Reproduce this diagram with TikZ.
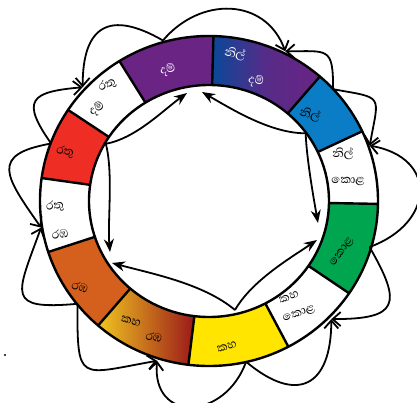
\documentclass[tikz,border=0pt]{standalone}
\usepackage{fontspec}
\newfontfamily\sinhfont[Script=Sinhala]{Abhaya Libre}
\usetikzlibrary{arrows.meta}
\definecolor{dampurple}{RGB}{106,36,132}
\definecolor{nildark}{RGB}{10,72,152}
\definecolor{nilblue}{RGB}{10,125,198}
\definecolor{kolagreen}{RGB}{0,165,80}
\definecolor{kahayellow}{RGB}{255,229,0}
\definecolor{rambaorange}{RGB}{213,96,30}
\definecolor{ratured}{RGB}{238,45,36}
\definecolor{goldtone}{RGB}{240,196,32}
\definecolor{deepred}{RGB}{155,25,25}
\tikzset{
  seg/.style={line width=2.4pt},
  lbl/.style={font=\sinhfont\fontsize{15}{16}\selectfont,inner sep=0pt},
  wlbl/.style={lbl,text=white},
  petal/.style={-{Straight Barb[length=8pt,width=14pt]},line width=1.8pt},
  mix/.style={-{Stealth[length=13pt,width=10pt]},line width=1.8pt}
}
\begin{document}
\begin{tikzpicture}[x=1pt,y=1pt]
\useasboundingbox (-209,-201) rectangle (208,201);
% ring
\foreach \a/\b/\c in {25/49/nilblue,-1/25/white,-34/-1/kolagreen,-62/-34/white,-97/-62/kahayellow,-162/-131/rambaorange,172/198/white,146.5/172/ratured,122/146.5/white,88.5/122/dampurple}
  \fill[\c] (\a:120pt and 116pt) arc[start angle=\a,end angle=\b,x radius=120pt,y radius=116pt] -- (\b:169pt and 165pt) arc[start angle=\b,end angle=\a,x radius=169pt,y radius=165pt] -- cycle;
\shade[left color=nildark,right color=dampurple,middle color=dampurple!80!nildark] (49:120pt and 116pt) arc[start angle=49,end angle=88.5,x radius=120pt,y radius=116pt] -- (88.5:169pt and 165pt) arc[start angle=88.5,end angle=49,x radius=169pt,y radius=165pt] -- cycle;
\shade[left color=goldtone,right color=deepred] (-131:120pt and 116pt) arc[start angle=-131,end angle=-97,x radius=120pt,y radius=116pt] -- (-97:169pt and 165pt) arc[start angle=-97,end angle=-131,x radius=169pt,y radius=165pt] -- cycle;
\draw[seg] (0,0) ellipse[x radius=120pt,y radius=116pt];
\draw[seg] (0,0) ellipse[x radius=169pt,y radius=165pt];
\foreach \a in {88.5,49,25,-1,-34,-62,-97,-131,-162,172,146.5,122}
  \draw[seg] (\a:120pt and 116pt) -- (\a:169pt and 165pt);

% labels
\node[wlbl,rotate=15] (dam) at (-41,131) {දම්};
\node[wlbl,rotate=-12] (nildam1) at (26,147) {නිල්};
\node[wlbl,rotate=-12] (nildam2) at (47,120) {දම්};
\node[lbl,rotate=-15] (nil) at (101,86) {නිල්};
\node[lbl] (nilkola1) at (134,47) {නිල්};
\node[lbl] (nilkola2) at (139,20) {කොළ};
\node[lbl,rotate=55] (kola) at (133,-51) {කොළ};
\node[lbl,rotate=18] (kahakola1) at (80,-96) {කහ};
\node[lbl,rotate=18] (kahakola2) at (90,-113) {කොළ};
\node[lbl,rotate=15] (kaha) at (18,-146) {කහ};
\node[lbl,rotate=-15] (kaharamba1) at (-78,-120) {කහ};
\node[lbl,rotate=-15] (kaharamba2) at (-55,-136) {රඹ};
\node[lbl,rotate=-20] (ramba) at (-129,-86) {රඹ};
\node[lbl,rotate=8] (raturamba1) at (-154,-5) {රතු};
\node[lbl,rotate=8] (raturamba2) at (-149,-33) {රඹ};
\node[lbl,rotate=-10] (ratu) at (-144,49) {රතු};
\node[lbl,rotate=28] (ratudam1) at (-102,116) {රතු};
\node[lbl,rotate=32] (ratudam2) at (-112,92) {දම්};

% outer petals
\coordinate (damO) at (106:167pt);
\coordinate (nilO) at (42:167pt);
\coordinate (kolaO) at (-16:167pt);
\coordinate (kahaO) at (-77:165pt);
\coordinate (rambaO) at (-142:167pt);
\coordinate (ratuO) at (160:168pt);
\coordinate (nildamE) at (63:168pt);
\coordinate (nilkolaE) at (19:170pt);
\coordinate (kahakolaE) at (-44:170pt);
\coordinate (kaharambaE) at (-108:168pt);
\coordinate (raturambaE) at (189:170pt);
\coordinate (ratudamE) at (138:170pt);
\draw[petal] (damO) to[out=50,in=110,looseness=1.2] (nildamE);
\draw[petal] (nilO) to[out=90,in=0,looseness=1.8] (nildamE);
\draw[petal] (nilO) to[out=-10,in=80,looseness=2] (nilkolaE);
\draw[petal] (kolaO) to[out=20,in=-10,looseness=1.75] (nilkolaE);
\draw[petal] (kolaO) to[out=-60,in=0,looseness=2.1] (kahakolaE);
\draw[petal] (kahaO) to[out=-40,in=270,looseness=1.8] (kahakolaE);
\draw[petal] (kahaO) to[out=250,in=265,looseness=1.8] (kaharambaE);
\draw[petal] (rambaO) to[out=270,in=190,looseness=2.1] (kaharambaE);
\draw[petal] (rambaO) to[out=185,in=250,looseness=2.2] (raturambaE);
\draw[petal] (ratuO) to[out=190,in=125,looseness=1.9] (raturambaE);
\draw[petal] (ratuO) to[out=125,in=185,looseness=2.1] (ratudamE);
\draw[petal] (damO) to[out=150,in=90,looseness=1.7] (ratudamE);

% inner mixing arrows
\coordinate (ratuI) at (151:118pt);
\coordinate (nilI) at (35:118pt);
\coordinate (kahaI) at (26,-109);
\coordinate (damA) at (-22,108);
\coordinate (damB) at (-7,109);
\coordinate (kolaA) at (109,-22);
\coordinate (kolaB) at (108,-39);
\coordinate (rambaA) at (-97,-62);
\coordinate (rambaB) at (-99,-51);
\draw[mix] (ratuI) to[out=10,in=216,looseness=0.8] (damA);
\draw[mix] (nilI) to[out=180,in=-30,looseness=0.8] (damB);
\draw[mix] (nilI) to[out=-88,in=100,looseness=0.7] (kolaA);
\draw[mix] (kahaI) to[out=60,in=214,looseness=0.8] (kolaB);
\draw[mix] (kahaI) to[out=140,in=-15,looseness=0.8] (rambaA);
\draw[mix] (ratuI) to[out=-75,in=95,looseness=0.7] (rambaB);

\fill (-204,-154) circle[radius=1.2];
\end{tikzpicture}
\end{document}
